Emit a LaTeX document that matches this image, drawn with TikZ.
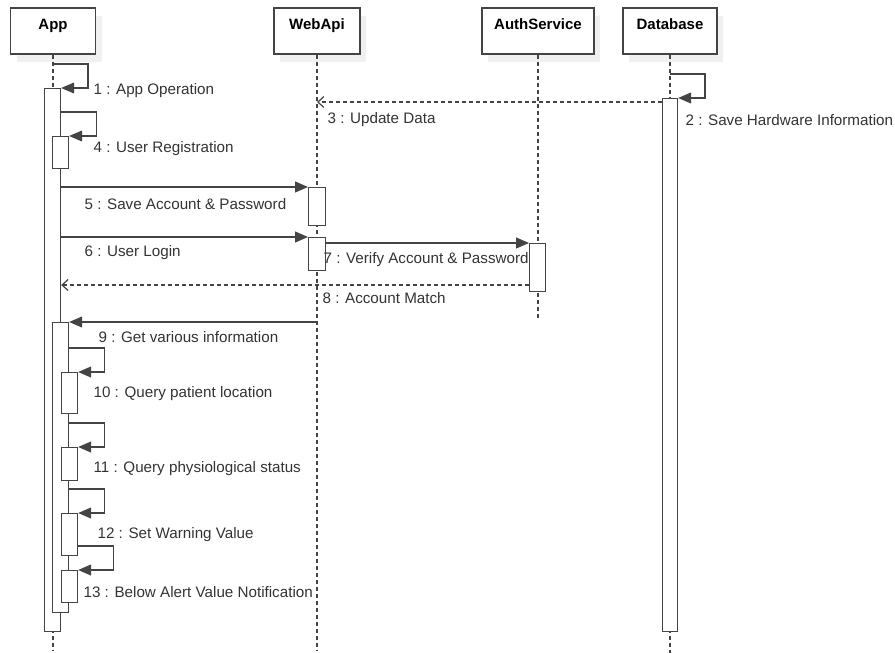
\documentclass[tikz,border=0pt]{standalone}
\usepackage{fontspec}
\setmainfont{Liberation Sans}
\usetikzlibrary{arrows.meta,shadows}
\definecolor{umlline}{HTML}{444444}
\definecolor{umltext}{HTML}{333333}
\definecolor{umlshadow}{HTML}{F0F0F0}
\begin{document}
\begin{tikzpicture}[x=1pt,y=-1pt,line width=1.2pt,color=umlline,
 head/.style={draw,fill=white,minimum height=46,text height=16,text depth=18,inner ysep=6,
  font=\bfseries\fontsize{15}{17}\selectfont,text=black,
  drop shadow={shadow xshift=6pt,shadow yshift=-8pt,fill=umlshadow,opacity=1}},
 life/.style={dash pattern=on 4pt off 3pt},
 act/.style={draw,fill=white,minimum width=16,inner sep=0,anchor=north west},
 msg/.style={-{Triangle[length=13pt,width=11pt]}},
 ret/.style={dash pattern=on 4pt off 3pt,-{Straight Barb[length=6pt,width=11pt]}},
 lbl/.style={anchor=west,inner sep=0,yshift=-2pt,font=\fontsize{15.2}{17}\selectfont,text=umltext}]
\useasboundingbox (0,0) rectangle (895,653);
\node[head,minimum width=85] (app) at (53,31) {App};
\node[head,minimum width=86] (web) at (317,31) {WebApi};
\node[head,minimum width=112] (auth) at (538,31) {AuthService};
\node[head,minimum width=94] (db) at (670,31) {Database};
\draw[life] (app.south) -- (app.south |- 0,650);
\draw[life] (web.south) -- (web.south |- 0,650);
\draw[life] (auth.south) -- (auth.south |- 0,320);
\draw[life] (db.south) -- (db.south |- 0,653);
\node[act,minimum height=543] (a1) at (44,88) {};
\node[act,minimum height=32] (a4) at (52,136) {};
\node[act,minimum height=290] (a9) at (52,322) {};
\node[act,minimum height=41] (a10) at (61,372) {};
\node[act,minimum height=33] (a11) at (61,447) {};
\node[act,minimum height=42] (a12) at (61,513) {};
\node[act,minimum height=32] (a13) at (61,570) {};
\node[act,minimum height=38,minimum width=17] (w5) at (308,187) {};
\node[act,minimum height=33,minimum width=17] (w6) at (308,237) {};
\node[act,minimum height=48] (s7) at (529,243) {};
\node[act,minimum height=533,minimum width=15] (d2) at (662,98) {};
\draw[msg] (app.south |- 0,64) -- ++(35,0) |- (a1.north east);
\draw[msg] (db.south |- 0,74) -- ++(35,0) |- (d2.north east);
\draw[ret] (d2.west |- 0,102) -- (web.south |- 0,102);
\draw[msg] (a1.east |- 0,112) -- ++(35,0) |- (a4.north east);
\draw[msg] (a1.east |- w5.north) -- (w5.north west);
\draw[msg] (a1.east |- w6.north) -- (w6.north west);
\draw[msg] (w6.east |- s7.north) -- (s7.north west);
\draw[ret] (s7.west |- 0,285) -- (a1.east |- 0,285);
\draw[msg] (web.south |- a9.north) -- (a9.north east);
\draw[msg] (a9.east |- 0,348) -- ++(35,0) |- (a10.north east);
\draw[msg] (a9.east |- 0,423) -- ++(35,0) |- (a11.north east);
\draw[msg] (a9.east |- 0,489) -- ++(35,0) |- (a12.north east);
\draw[msg] (a12.east |- 0,546) -- ++(35,0) |- (a13.north east);
\node[lbl] (t1) at (93,89) {1 : App Operation};
\node[lbl] (t2) at (685,118) {2 : Save Hardware Information};
\node[lbl] (t3) at (327,118) {3 : Update Data};
\node[lbl] (t4) at (93,147) {4 : User Registration};
\node[lbl] (t5) at (84,202) {5 : Save Account \& Password};
\node[lbl] (t6) at (84,251) {6 : User Login};
\node[lbl] (t7) at (323,258) {7 : Verify Account \& Password};
\node[lbl] (t8) at (322,296) {8 : Account Match};
\node[lbl] (t9) at (98,335) {9 : Get various information};
\node[lbl] (t10) at (93,392) {10 : Query patient location};
\node[lbl] (t11) at (93,467) {11 : Query physiological status};
\node[lbl] (t12) at (97,533) {12 : Set Warning Value};
\node[lbl] (t13) at (83,590) {13 : Below Alert Value Notification};
\end{tikzpicture}
\end{document}
